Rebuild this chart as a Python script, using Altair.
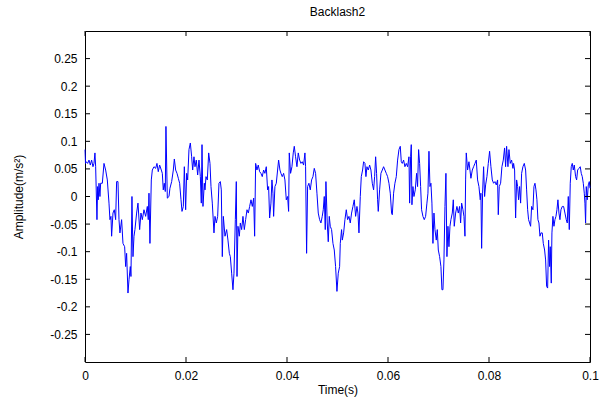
import altair as alt
import pandas as pd

# Acceleration record: time in milliseconds, amplitude in m/s^2
time_ms = [
    0.00, 0.10, 0.26, 0.52, 0.79, 1.05, 1.31, 1.58, 1.78, 1.97,
    2.11, 2.37, 2.50, 2.63, 2.77, 2.96, 3.10, 3.43, 3.76, 4.09,
    4.42, 4.75, 4.94, 5.14, 5.27, 5.54, 5.80, 6.07, 6.26, 6.53,
    6.73, 6.92, 7.25, 7.52, 7.85, 8.05, 8.24, 8.51, 8.71, 8.97,
    9.10, 9.30, 9.50, 9.70, 9.89, 10.22, 10.49, 10.82, 11.08, 11.35,
    11.68, 12.01, 12.34, 12.53, 12.67, 12.86, 13.13, 13.33, 13.66, 13.99,
    14.25, 14.51, 14.78, 15.11, 15.31, 15.50, 15.70, 15.90, 16.03, 16.30,
    16.63, 16.82,
    17.16, 17.49, 17.69, 17.95, 18.22, 18.48, 18.74, 19.01, 19.21, 19.47,
    19.67, 19.93, 20.13, 20.33, 20.59, 20.86, 21.12, 21.32, 21.58, 21.78,
    22.04, 22.31, 22.57, 22.84, 23.03, 23.17, 23.36, 23.63, 23.76, 23.96,
    24.22, 24.49, 24.75, 24.95, 25.21, 25.54, 25.74, 26.00, 26.27, 26.53,
    26.80, 26.99, 27.19, 27.39, 27.72, 28.05, 28.31, 28.58, 28.78, 29.04,
    29.30, 29.50, 29.77, 29.96, 30.10, 30.29, 30.56, 30.76, 31.02, 31.28,
    31.55, 31.81, 32.08, 32.34, 32.60, 32.87, 33.13, 33.40, 33.59, 33.79,
    34.05, 34.31, 34.58, 34.84, 35.10, 35.37, 35.63, 35.90, 36.16, 36.36,
    36.56, 36.82, 37.02, 37.22, 37.35, 37.61, 37.88, 38.14, 38.34, 38.60,
    38.80, 39.06, 39.33, 39.59, 39.86, 40.12, 40.32, 40.45, 40.71, 40.98,
    41.24, 41.44, 41.70, 41.97, 42.23, 42.50, 42.76, 43.02, 43.29, 43.55,
    43.68, 43.88, 44.08, 44.34, 44.61, 44.87, 45.14, 45.40, 45.66, 45.93,
    46.19, 46.46, 46.72, 46.98, 47.18, 47.38, 47.58, 47.71, 47.97, 48.17,
    48.37, 48.57, 48.83, 49.10, 49.36, 49.62, 49.89, 50.15, 50.42, 50.55,
    50.81,
    50.95, 51.21, 51.47, 51.74, 52.00, 52.27, 52.53, 52.79, 53.06, 53.32,
    53.59, 53.85, 54.05, 54.25, 54.51, 54.71, 54.97, 55.17, 55.43, 55.63,
    55.83, 56.09, 56.36, 56.62, 56.89, 57.15, 57.35, 57.55, 57.74, 57.94,
    58.07, 58.34, 58.60, 58.87, 59.13, 59.39, 59.66, 59.92, 60.19, 60.45,
    60.71, 60.85, 61.11, 61.37, 61.64, 61.90, 62.17, 62.43, 62.63, 62.83,
    63.09, 63.35, 63.62, 63.88, 64.15, 64.28, 64.48, 64.61, 64.74, 64.94,
    65.14, 65.40, 65.66, 65.86, 66.06, 66.26, 66.46, 66.65, 66.92, 67.18,
    67.45, 67.71, 67.91,
    68.11, 68.31, 68.50, 68.70, 68.90, 69.10, 69.30, 69.56, 69.76, 69.96,
    70.22, 70.48, 70.68, 70.88, 71.08, 71.28, 71.47, 71.67, 71.87, 72.07,
    72.27, 72.46, 72.73, 72.93, 73.12, 73.39, 73.65, 73.92, 74.18, 74.38,
    74.58, 74.84, 75.04, 75.24, 75.37, 75.50, 75.76, 76.03, 76.23, 76.42,
    76.69, 76.95, 77.22, 77.48, 77.74, 78.01, 78.27, 78.40, 78.54, 78.73,
    78.93, 79.13, 79.33, 79.59, 79.86, 80.12, 80.38, 80.65, 80.91, 81.18,
    81.44, 81.70, 81.84, 82.03, 82.30, 82.56, 82.83, 83.09, 83.29, 83.49,
    83.75, 83.95, 84.21, 84.48, 84.74,
    84.87, 85.07, 85.27, 85.47, 85.67, 85.86, 86.06, 86.26, 86.46, 86.72,
    86.99, 87.25, 87.45, 87.65, 87.84, 88.04, 88.24, 88.44, 88.70, 88.90,
    89.10, 89.30, 89.49, 89.69, 89.89, 90.09, 90.29, 90.55, 90.75, 91.01,
    91.21, 91.41, 91.61, 91.80, 92.00, 92.13, 92.33, 92.46, 92.66, 92.86,
    93.06, 93.26, 93.45, 93.65, 93.85, 94.05, 94.25, 94.51, 94.77, 95.04,
    95.30, 95.50, 95.70, 95.90, 96.09, 96.29, 96.49, 96.69, 96.89, 97.15,
    97.35, 97.55, 97.81, 98.07, 98.27, 98.47, 98.67, 98.87, 99.00, 99.13,
    99.26, 99.46, 99.66, 99.86, 100.00,
]

accel = [
    0.085, 0.060, 0.063, 0.060, 0.066, 0.057, 0.066, 0.054, 0.060, 0.079,
    0.054, -0.042, 0.018, -0.006, 0.024, 0.000, 0.024, 0.024, 0.060, 0.048,
    0.030, -0.012, -0.042, -0.036, -0.072, -0.030, -0.024, -0.042, 0.027, 0.027,
    -0.042, -0.066, -0.042, -0.085, -0.091, -0.127, -0.103, -0.175, -0.151, -0.127,
    -0.145, 0.000, -0.109, -0.072, -0.060, -0.030, -0.012, -0.060, -0.030, -0.042,
    -0.024, -0.036, -0.018, -0.042, 0.006, -0.085, 0.030, 0.048, 0.054, 0.051,
    0.060, 0.045, 0.057, 0.048, 0.042, 0.012, 0.024, 0.009, 0.127, -0.003,
    0.000, 0.015,
    0.027, 0.048, 0.068, 0.048, 0.042, 0.033, 0.024, -0.006, -0.027, -0.018,
    0.054, -0.024, 0.042, 0.030, 0.085, 0.097, 0.072, 0.048, 0.072, 0.054,
    0.066, 0.039, 0.066, 0.036, -0.012, 0.094, -0.018, 0.024, 0.012, 0.036,
    0.030, 0.079, 0.060, 0.018, -0.012, -0.066, -0.036, -0.048, -0.036, 0.024,
    0.027, 0.012, -0.109, -0.036, -0.072, -0.060, -0.079, -0.103, -0.109, -0.139,
    -0.169, -0.139, -0.042, 0.027, -0.145, -0.054, -0.072, -0.048, -0.060, -0.036,
    -0.060, -0.042, -0.024, -0.030, -0.018, -0.006, -0.018, -0.003, -0.072, 0.060,
    0.048, 0.057, 0.045, 0.042, 0.036, 0.048, 0.042, 0.054, 0.012, 0.018,
    -0.039, -0.012, 0.030, 0.006, -0.036, 0.018, 0.024, 0.048, 0.066, 0.048,
    0.042, 0.036, 0.042, 0.030, -0.006, 0.000, -0.027, 0.079, 0.042, 0.054,
    0.079, 0.091, 0.072, 0.054, 0.079, 0.066, 0.060, 0.063, 0.057, 0.079,
    0.054, -0.103, 0.018, 0.024, 0.012, 0.030, 0.036, 0.051, 0.042, 0.006,
    -0.030, -0.042, -0.048, -0.036, -0.024, 0.000, -0.060, 0.027, -0.048, -0.082,
    -0.036, -0.054, -0.060, -0.085, -0.097, -0.127, -0.172, -0.139, -0.127, -0.085,
    -0.060,
    -0.079, -0.066, -0.042, -0.024, -0.042, -0.036, -0.048, -0.030, -0.018, -0.006,
    -0.036, -0.018, -0.030, -0.066, 0.000, 0.036, 0.048, 0.063, 0.060, 0.036,
    0.054, 0.048, 0.057, 0.048, 0.024, 0.012, 0.036, 0.072, 0.042, -0.006,
    -0.027, 0.012, 0.042, 0.048, 0.054, 0.048, 0.042, 0.036, 0.024, 0.006,
    -0.030, -0.033, 0.006, 0.024, 0.036, 0.066, 0.085, 0.091, 0.063, 0.060,
    0.066, 0.054, 0.060, 0.054, 0.072, -0.012, 0.072, 0.094, -0.015, 0.018,
    0.000, 0.012, 0.042, 0.018, 0.085, 0.060, 0.018, -0.024, -0.036, -0.042,
    -0.036, -0.012, 0.006,
    0.082, 0.018, 0.024, -0.012, -0.085, -0.030, -0.060, -0.079, -0.060, -0.097,
    -0.109, -0.127, -0.169, -0.169, -0.115, -0.018, 0.042, -0.109, -0.054, -0.091,
    -0.054, -0.042, -0.030, -0.006, -0.054, -0.030, -0.018, -0.030, -0.018, -0.048,
    -0.012, -0.024, -0.036, -0.072, 0.030, 0.079, 0.048, 0.063, 0.048, 0.033,
    0.048, 0.054, 0.060, 0.066, 0.030, 0.018, -0.006, 0.006, -0.094, 0.006,
    0.054, 0.000, 0.021, 0.036, 0.060, 0.082, 0.054, 0.030, 0.024, 0.027,
    0.021, 0.030, -0.033, 0.018, 0.024, 0.054, 0.066, 0.088, 0.054, 0.091,
    0.054, 0.085, 0.060, 0.066, 0.051,
    0.060, 0.048, -0.039, 0.030, 0.018, -0.006, 0.018, -0.012, 0.042, 0.054,
    0.060, 0.048, 0.012, -0.024, -0.042, -0.048, -0.054, -0.018, -0.024, 0.018,
    0.024, 0.012, -0.006, -0.042, -0.048, -0.072, -0.066, -0.066, -0.085, -0.097,
    -0.115, -0.163, -0.166, -0.079, -0.127, -0.091, -0.157, -0.066, -0.036, -0.054,
    -0.042, -0.036, -0.024, -0.006, -0.030, -0.042, -0.024, -0.018, -0.018, -0.030,
    -0.042, -0.048, 0.000, -0.060, 0.024, 0.054, 0.060, 0.048, 0.057, 0.036,
    0.030, 0.048, 0.051, 0.054, 0.042, 0.036, 0.024, 0.006, -0.012, -0.048,
    0.018, -0.006, 0.021, 0.027, 0.015,
]

x_ticks = [0, 0.02, 0.04, 0.06, 0.08, 0.1]
y_ticks = [-0.25, -0.2, -0.15, -0.1, -0.05, 0, 0.05, 0.1, 0.15, 0.2, 0.25]
x_domain = [0, 0.1]
y_domain = [-0.3, 0.3]

W, H = 505, 331
TICK = 5
FONT = "Liberation Sans"

signal = pd.DataFrame({"t": [v / 1000 for v in time_ms], "a": accel})
xt = pd.DataFrame({"t": x_ticks})
yt = pd.DataFrame({"a": y_ticks})

x_scale = alt.Scale(domain=x_domain, nice=False, zero=False)
y_scale = alt.Scale(domain=y_domain, nice=False, zero=False)

x_axis = alt.Axis(
    values=x_ticks, labelExpr="'' + datum.value", ticks=False, domain=False,
    grid=False, labelFlush=False, labelPadding=8, labelFont=FONT,
    labelFontSize=12, labelColor="black", title="Time(s)", titleFont=FONT,
    titleFontSize=12, titleFontWeight="normal", titleColor="black", titleY=22,
)
y_axis = alt.Axis(
    values=y_ticks, labelExpr="'' + datum.value", ticks=False, domain=False,
    grid=False, labelFlush=False, labelPadding=8, labelFont=FONT,
    labelFontSize=12, labelColor="black", title="Amplitude(m/s²)",
    titleFont=FONT, titleFontSize=12, titleFontWeight="normal",
    titleColor="black", titleX=-60, titleY=H / 2,
)

X = alt.X("t:Q", scale=x_scale, axis=x_axis)
Y = alt.Y("a:Q", scale=y_scale, axis=y_axis)

line = alt.Chart(signal).mark_line(color="#0000ff", strokeWidth=1).encode(x=X, y=Y)

# inward tick marks on all four sides of the frame
tick_style = dict(color="black", strokeWidth=1)
bottom = alt.Chart(xt).mark_rule(**tick_style).encode(x=X, y=alt.value(H), y2=alt.value(H - TICK))
top = alt.Chart(xt).mark_rule(**tick_style).encode(x=X, y=alt.value(0), y2=alt.value(TICK))
left = alt.Chart(yt).mark_rule(**tick_style).encode(y=Y, x=alt.value(0), x2=alt.value(TICK))
right = alt.Chart(yt).mark_rule(**tick_style).encode(y=Y, x=alt.value(W - TICK), x2=alt.value(W))

chart = (
    alt.layer(line, bottom, top, left, right)
    .properties(
        width=W,
        height=H,
        title=alt.TitleParams(
            "Backlash2", font=FONT, fontSize=12, fontWeight="normal",
            color="black", offset=12,
        ),
        autosize=alt.AutoSizeParams(type="none"),
        padding={"left": 85, "top": 31, "right": 16, "bottom": 37},
        background="white",
    )
    .configure_view(stroke="black", strokeWidth=1)
)

chart.save("out.html", embed_options={"renderer": "svg", "actions": False})
